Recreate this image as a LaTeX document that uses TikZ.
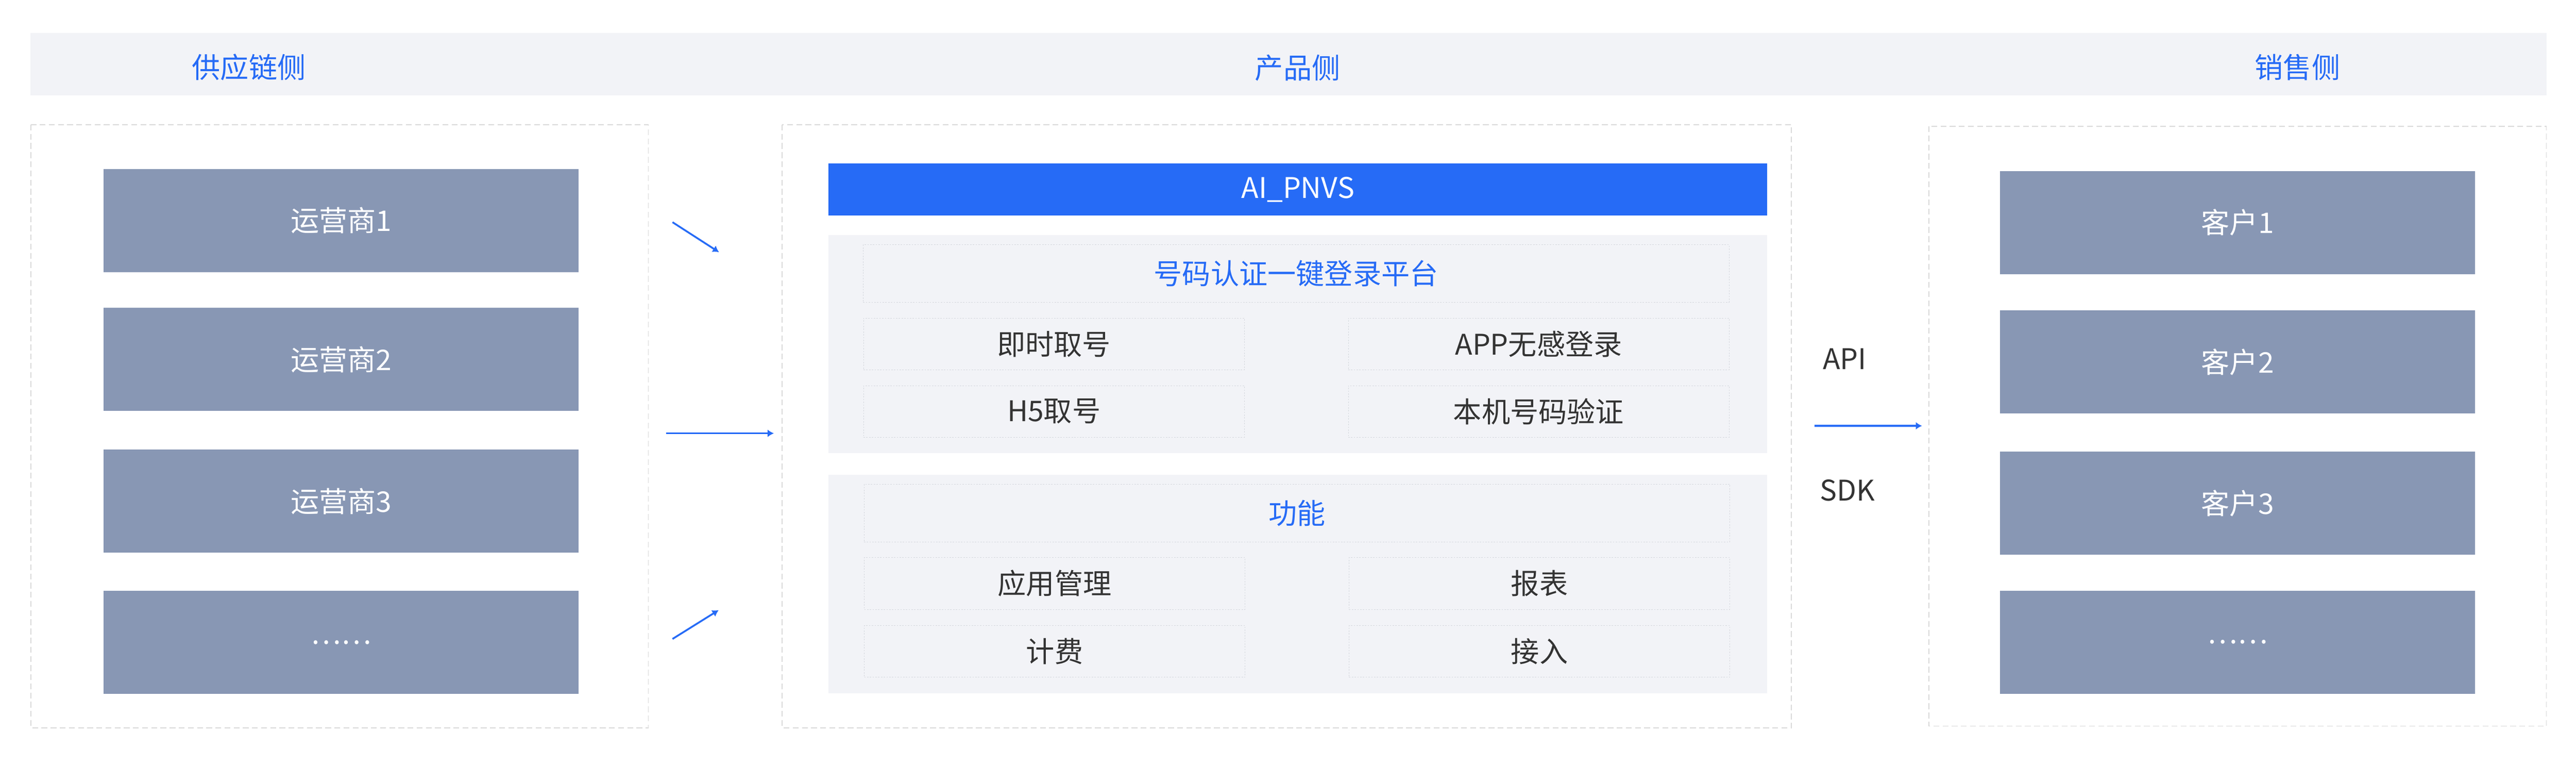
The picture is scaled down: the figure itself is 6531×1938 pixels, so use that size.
\documentclass[tikz,border=0pt]{standalone}
\usepackage{fontspec}
\setmainfont{Noto Sans CJK SC}
\usetikzlibrary{arrows.meta}

\definecolor{bandgray}{HTML}{F2F3F7}
\definecolor{boxgray}{HTML}{8897B4}
\definecolor{pnvsblue}{HTML}{266BF6}
\definecolor{dashgray}{HTML}{D9D9D9}
\definecolor{cellgray}{HTML}{D3D6DC}
\definecolor{textgray}{HTML}{333333}

\tikzset{
	party/.style = {fill = boxgray, text = white, inner sep = 0pt, minimum width = 12.03cm, minimum height = 2.61cm},
	cell/.style = {draw = cellgray, line width = 0.3pt, dash pattern = on 1pt off 1pt, text = textgray, inner sep = 0pt, minimum width = 9.65cm, minimum height = 1.31cm},
	headcell/.style = {cell, text = pnvsblue, minimum width = 21.94cm, minimum height = 1.46cm},
	sidetitle/.style = {text = pnvsblue},
	container/.style = {draw = dashgray, line width = 0.6pt, dash pattern = on 4.2pt off 2.4pt}
}

\begin{document}
\begin{tikzpicture}[x = 0.01cm, y = -0.01cm, > = {Latex[length = 4.5pt, width = 5.5pt]}, font = \fontsize{20.5}{24}\selectfont]

	\useasboundingbox (0, 0) rectangle (6531, 1938);

	% The header

	\fill [bandgray] (77, 84) rectangle (6456, 241);

	\node [sidetitle] (supply) at (631, 170) {供应链侧};
	\node [sidetitle] (product) at (3290, 172) {产品侧};
	\node [sidetitle] (sales) at (5825, 171) {销售侧};

	% Containers

	\draw [container] (78, 316) rectangle (1644, 1844);
	\draw [container] (1983, 316) rectangle (4542, 1844);
	\draw [container] (4890, 320) rectangle (6456, 1840);

	% Supply side

	\foreach \n/\y in {1/559, 2/911, 3/1270}
		\node [party] (op\n) at (865, \y) {运营商\n};
	\node [party] (op4) at (865, 1628) {……};

	% Product side

	\node [fill = pnvsblue, text = white, inner sep = 0pt, minimum width = 23.79cm, minimum height = 1.32cm] (pnvs) at (3290.5, 480) {AI\_PNVS};

	\fill [bandgray] (2101, 595) rectangle (4480, 1148);
	\fill [bandgray] (2101, 1203) rectangle (4480, 1757);

	\node [headcell] (auth) at (3286, 693) {号码认证一键登录平台};
	\node [cell] (instant) at (2672, 871.5) {即时取号};
	\node [cell] (applogin) at (3901, 871.5) {APP无感登录};
	\node [cell] (hfive) at (2672, 1042.5) {H5取号};
	\node [cell] (verify) at (3901, 1042.5) {本机号码验证};

	\node [headcell] (func) at (3288, 1300) {功能};
	\node [cell] (appmgmt) at (2674, 1478.5) {应用管理};
	\node [cell] (report) at (3903, 1478.5) {报表};
	\node [cell] (billing) at (2674, 1650.5) {计费};
	\node [cell] (access) at (3903, 1650.5) {接入};

	% Arrows into the product

	\begin{scope}[->, line width = 1.3pt, pnvsblue]

		\coordinate (in1) at (1705, 563);
		\coordinate (to1) at (1823, 639);
		\coordinate (in2) at (1689, 1098);
		\coordinate (to2) at (1962, 1098);
		\coordinate (in3) at (1705, 1619);
		\coordinate (to3) at (1822, 1546);
		\coordinate (out) at (4600, 1079);
		\coordinate (toout) at (4873, 1079);

		\foreach \n in {1, 2, 3}
			\draw (in\n) -- (to\n);
		\draw (out) -- (toout);

	\end{scope}

	\node [text = textgray] (api) at (4677, 909) {API};
	\node [text = textgray] (sdk) at (4684, 1242) {SDK};

	% Sales side

	\foreach \n/\y in {1/564, 2/917, 3/1275}
		\node [party] (client\n) at (5673, \y) {客户\n};
	\node [party] (client4) at (5673, 1627) {……};

\end{tikzpicture}
\end{document}
